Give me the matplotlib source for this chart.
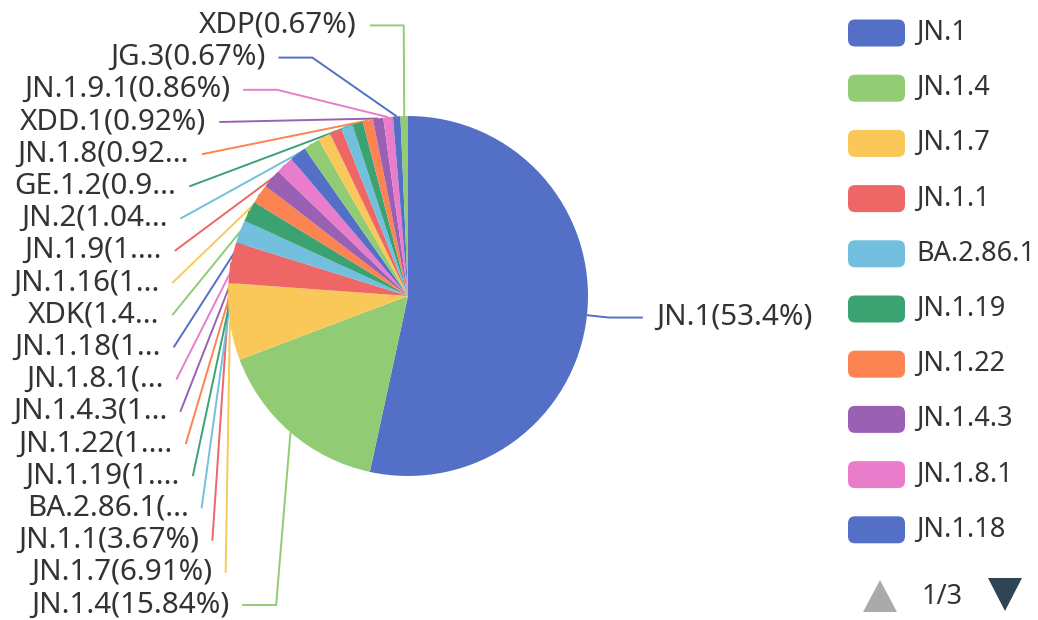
import numpy as np
import matplotlib
matplotlib.use("Agg")
import matplotlib.pyplot as plt
from matplotlib.patches import FancyBboxPatch, Polygon

plt.rcParams['font.family'] = ['Noto Sans', 'DejaVu Sans']

# 数据
names = ["JN.1", "JN.1.4", "JN.1.7", "JN.1.1", "BA.2.86.1", "JN.1.19", "JN.1.22",
         "JN.1.4.3", "JN.1.8.1", "JN.1.18", "XDK", "JN.1.16", "JN.1.9", "JN.2",
         "GE.1.2", "JN.1.8", "XDD.1", "JN.1.9.1", "JG.3", "XDP"]
shares = [53.4, 15.84, 6.91, 3.67, 2.05, 1.85, 1.75, 1.7, 1.6, 1.5,
          1.45, 1.15, 1.1, 1.04, 0.95, 0.92, 0.92, 0.86, 0.67, 0.67]
legend_page = "1/3"
legend_per_page = 10

palette = ["#5470c6", "#91cc75", "#fac858", "#ee6666", "#73c0de",
           "#3ba272", "#fc8452", "#9a60b4", "#ea7ccc"]
colors = [palette[i % len(palette)] for i in range(len(names))]
text_color = "#333333"

# 画布（像素坐标，y 向下）
W, H = 1038, 620
fig = plt.figure(figsize=(W / 100, H / 100), dpi=100)
ax = fig.add_axes([0, 0, 1, 1])

cx, cy, r = 408, 296, 180
len1, len2, gap = 22, 34, 13
line_h = 32.2
top_y, bot_y = 25, 605
left_edge = 12.5
label_fs = 21.3
legend_fs = 19.5

ax.pie(shares, colors=colors, startangle=270, counterclock=True,
       center=(cx, cy), radius=r, wedgeprops=dict(linewidth=0))
ax.set_xlim(0, W)
ax.set_ylim(H, 0)
ax.set_aspect('auto')
ax.axis('off')

# 标签布局（仿 echarts）
vals = np.array(shares, dtype=float)
frac = vals / vals.sum()
ends = np.cumsum(frac) * 360
mids = np.deg2rad(ends - frac * 180)
ux, uy = np.sin(mids), -np.cos(mids)
p0x, p0y = cx + r * ux, cy + r * uy
rA = r + len1
p1x, p1y = cx + rA * ux, cy + rA * uy
side = np.where(ux < 0, -1, 1)
lx = p1x + side * len2
ly = p1y.copy()

for s in (-1, 1):
    idx = [i for i in np.argsort(ly) if side[i] == s]
    if len(idx) < 2:
        continue
    ys = ly[idx].copy()
    new = ys.copy()
    new[0] = max(new[0], top_y)
    for k in range(1, len(new)):
        new[k] = max(new[k], new[k - 1] + line_h)
    new[-1] = min(new[-1], bot_y)
    for k in range(len(new) - 2, -1, -1):
        new[k] = min(new[k], new[k + 1] - line_h)
    ly[idx] = new
    # 椭圆重新计算 x
    for bottom in (False, True):
        mem = [i for i in idx if (ly[i] > cy) == bottom]
        if not mem:
            continue
        ext = max(mem, key=lambda i: abs(ly[i] - cy))
        dx0 = abs(p1x[ext] - cx)
        dy0 = abs(ly[ext] - cy)
        rB = np.sqrt(dy0 ** 2 / (1 - dx0 ** 2 / rA ** 2)) if dx0 < rA else rA
        for i in mem:
            dy = abs(ly[i] - cy)
            dx = rA * np.sqrt(max(0.0, 1 - dy ** 2 / rB ** 2))
            lx[i] = cx + s * (dx + len2)


def project(a, b, p):
    d = b - a
    t = np.dot(p - a, d) / np.dot(d, d)
    q = a + t * d
    return q, np.linalg.norm(p - q)


def limit_turn(pts, min_angle=90):
    a, b, c = pts
    v1, v2 = a - b, c - b
    l1, l2 = np.linalg.norm(v1), np.linalg.norm(v2)
    if l1 < 1e-3 or l2 < 1e-3:
        return
    v1, v2 = v1 / l1, v2 / l2
    if np.cos(np.deg2rad(min_angle)) < np.dot(v1, v2):
        q, d = project(b, c, a)
        q = q + v2 * d / np.tan(np.pi - np.deg2rad(min_angle))
        t = (q[0] - b[0]) / (c[0] - b[0]) if c[0] != b[0] else (q[1] - b[1]) / (c[1] - b[1])
        if t < 0:
            q = b.copy()
        elif t > 1:
            q = c.copy()
        pts[1] = q


def limit_surface(pts, normal, max_angle=80):
    a, b, c = pts
    v1, v2 = b - a, c - b
    l1, l2 = np.linalg.norm(v1), np.linalg.norm(v2)
    if l1 < 1e-3 or l2 < 1e-3:
        return
    v1, v2 = v1 / l1, v2 / l2
    ma = np.deg2rad(max_angle)
    if np.dot(v1, normal) < np.cos(ma):
        q, d = project(b, c, a)
        ang2 = np.arccos(np.clip(np.dot(v2, normal), -1, 1))
        new_ang = np.pi / 2 + ang2 - ma
        if new_ang >= np.pi / 2:
            q = c.copy()
        else:
            q = q + v2 * d / np.tan(np.pi / 2 - new_ang)
            t = (q[0] - b[0]) / (c[0] - b[0]) if c[0] != b[0] else (q[1] - b[1]) / (c[1] - b[1])
            if t < 0:
                q = b.copy()
            elif t > 1:
                q = c.copy()
        pts[1] = q


fig.canvas.draw()
renderer = fig.canvas.get_renderer()

for i, name in enumerate(names):
    s = side[i]
    pts = [np.array([p0x[i], p0y[i]]),
           np.array([lx[i] - s * len2, ly[i]]),
           np.array([lx[i], ly[i]])]
    limit_turn(pts)
    limit_surface(pts, np.array([ux[i], uy[i]]))
    xs = [p[0] for p in pts]
    ys = [p[1] for p in pts]
    ax.plot(xs, ys, color=colors[i], lw=1.4, solid_capstyle='butt', zorder=0)

    full = f"{name}({round(shares[i], 2):g}%)"
    tx = lx[i] + s * gap
    t = ax.text(tx, ly[i], full, ha='left' if s > 0 else 'right', va='center',
                fontsize=label_fs, color=text_color)
    avail = (tx - left_edge) if s < 0 else (W - left_edge - tx)
    if t.get_window_extent(renderer).width > avail:
        n = len(full)
        while n > 0:
            t.set_text(full[:n] + "...")
            if t.get_window_extent(renderer).width <= avail:
                break
            n -= 1

# 图例（第一页）
leg_x, leg_y0, leg_dy = 848, 33, 55.2
for k in range(legend_per_page):
    y = leg_y0 + k * leg_dy
    ax.add_patch(FancyBboxPatch((leg_x, y - 13.5), 57, 27,
                                boxstyle="round,pad=0,rounding_size=7",
                                fc=colors[k], ec='none'))
    ax.text(leg_x + 68, y, names[k], ha='left', va='center',
            fontsize=legend_fs, color=text_color)

# 翻页器
ax.add_patch(Polygon([[863, 612], [897, 612], [880, 580]], closed=True, fc='#aaaaaa', ec='none'))
ax.add_patch(Polygon([[988, 578], [1022, 578], [1005, 611]], closed=True, fc='#2f4554', ec='none'))
ax.text(942, 597, legend_page, ha='center', va='center', fontsize=legend_fs, color=text_color)

fig.savefig("out.png", dpi=100)
